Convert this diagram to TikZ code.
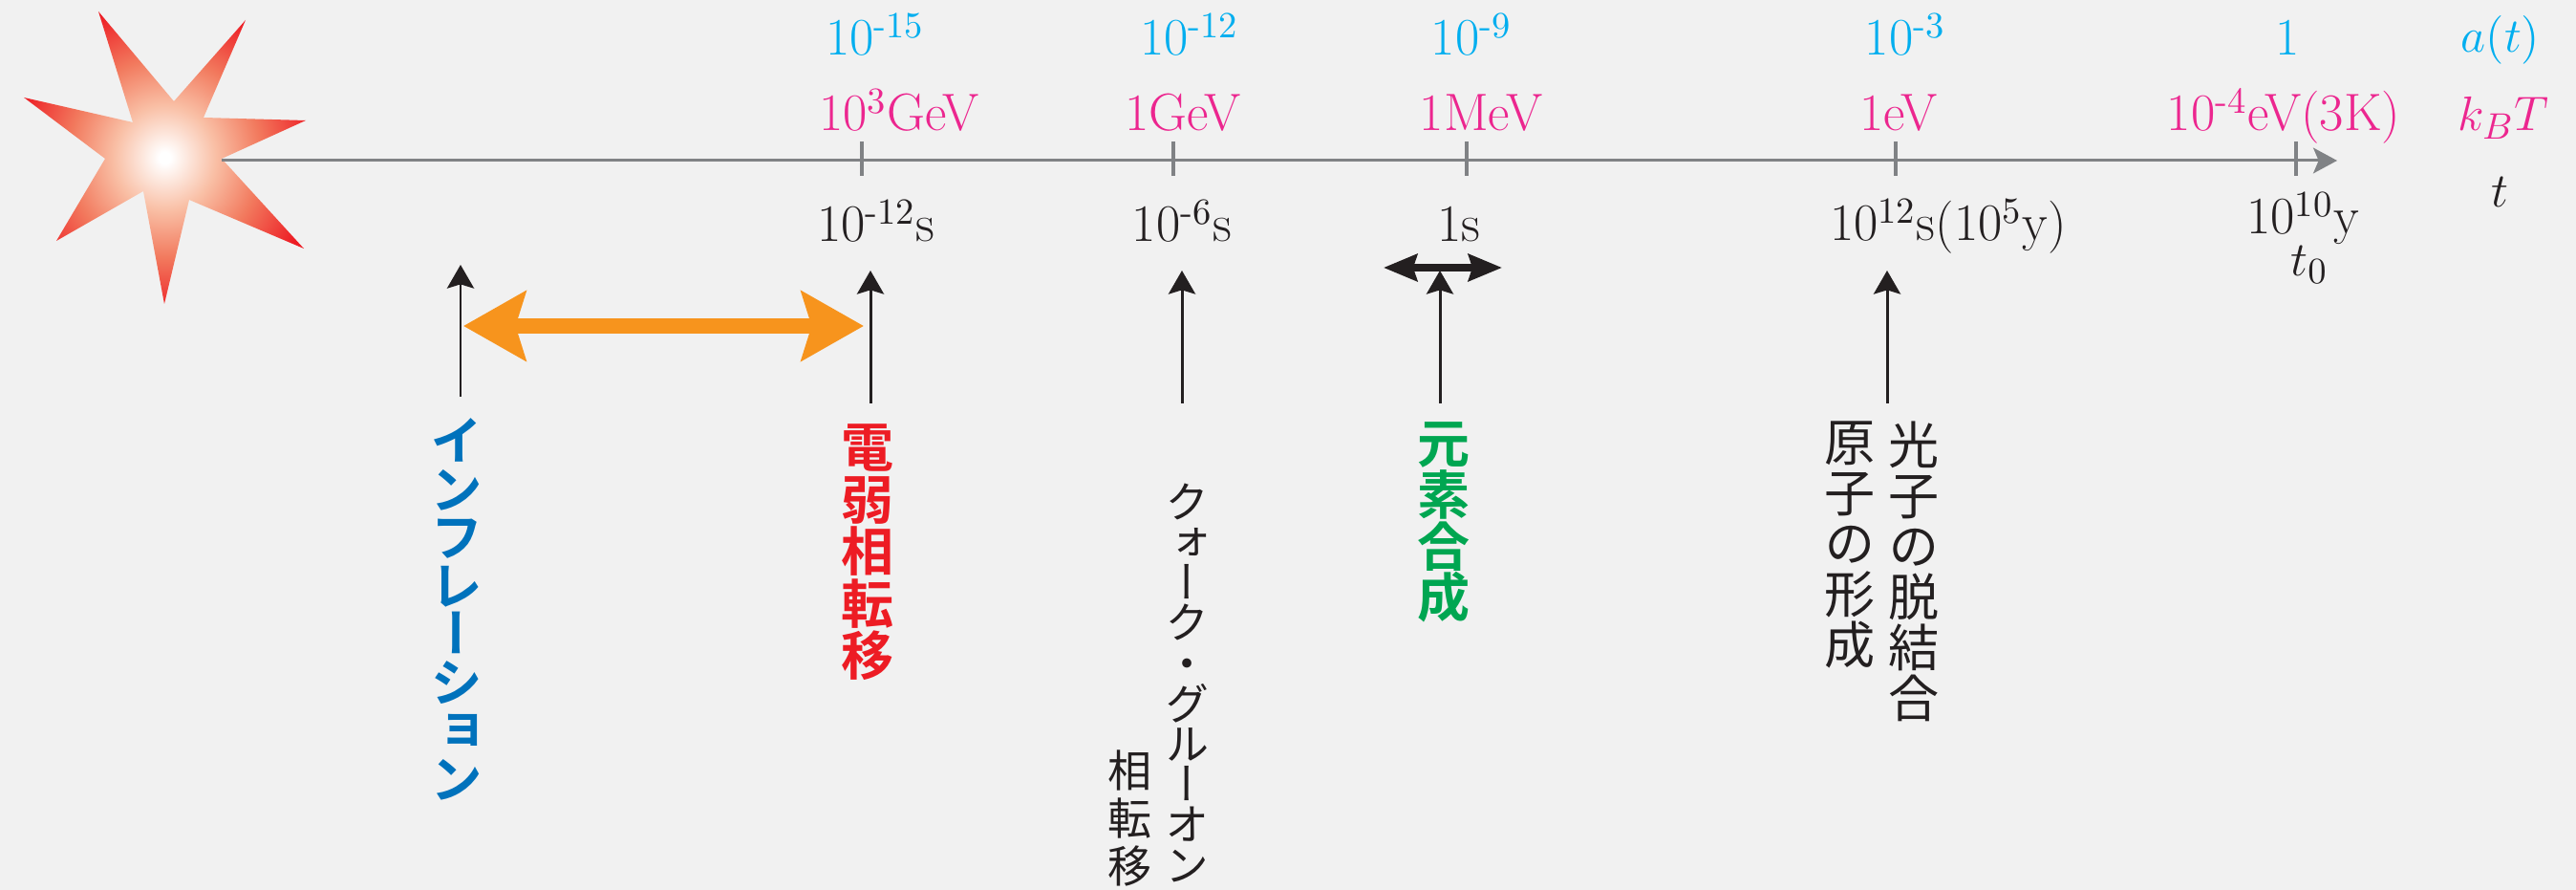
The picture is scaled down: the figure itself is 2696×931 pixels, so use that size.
\documentclass[tikz,border=0pt]{standalone}
\usepackage{fontspec}
\usetikzlibrary{arrows.meta}

% vertical-form glyphs (long vowel bar, small kana) for stacked Japanese labels
\newfontfamily\jpbold[RawFeature={+vert}]{Noto Sans CJK JP Bold}
\newfontfamily\jpreg[RawFeature={+vert}]{Noto Sans CJK JP}

\definecolor{paper}{HTML}{F1F1F1}
\definecolor{axisgray}{HTML}{808285}
\definecolor{scalecyan}{HTML}{00AEEF}
\definecolor{tempmag}{HTML}{EC268F}
\definecolor{infblue}{HTML}{0072BC}
\definecolor{ewred}{HTML}{ED1C24}
\definecolor{nucgreen}{HTML}{00A651}
\definecolor{spanorange}{HTML}{F7941D}
\definecolor{ink}{HTML}{231F20}
\definecolor{starpeach}{HTML}{F9BFA5}
\definecolor{starmid}{HTML}{F27A5E}

\pgfdeclareradialshading{bigbang}{\pgfpoint{0bp}{0bp}}{%
  color(0bp)=(white); color(1bp)=(white); color(9bp)=(starpeach);
  color(17bp)=(starmid); color(27bp)=(ewred); color(50bp)=(ewred)}

\tikzset{
  num/.style={font=\fontsize{15.65pt}{18pt}\selectfont, anchor=base, inner sep=0pt},
  tickmark/.style={draw=axisgray, line width=1.4pt},
  riser/.style={draw=ink, line width=0.85pt,
    -{Stealth[length=7pt, width=8pt, inset=1.2pt]}},
  vlab/.style={align=center, inner sep=0pt, anchor=north},
  boldjp/.style={font=\jpbold\fontsize{15.65pt}{#1}\selectfont},
  regjp/.style={font=\jpreg\fontsize{15.1pt}{#1}\selectfont},
  smalljp/.style={font=\jpreg\fontsize{13.1pt}{#1}\selectfont},
}

\begin{document}
\begin{tikzpicture}[x=0.01cm, y=-0.01cm]
  % let stacked characters sit at a fixed pitch
  \lineskiplimit=-30pt
  \lineskip=0pt
  \useasboundingbox (0,0) rectangle (2696,931);
  \fill[paper] (0,0) rectangle (2696,931);

  % the bang
  \shade[shading=bigbang]
    (103,12) -- (182,106) -- (257,21) -- (213,123) -- (320,126) -- (232,166)
    -- (318,260) -- (198,209) -- (172,318) -- (150,200) -- (59,252)
    -- (110,166) -- (25,102) -- (139,128) -- cycle;

  % time axis
  \coordinate (bang) at (232,168);
  \coordinate (now) at (2446,168);
  \draw[axisgray, line width=0.85pt,
        -{Stealth[length=7.1pt, width=7.6pt, inset=1.6pt]}] (bang) -- (now);
  \foreach \x in {902,1228,1535,1984,2403}
    \draw[tickmark] (\x,148) -- (\x,184);

  % scale factor row
  \node[num, text=scalecyan] (a1) at (916,58) {10\textsuperscript{-15}};
  \node[num, text=scalecyan] (a2) at (1245,58) {10\textsuperscript{-12}};
  \node[num, text=scalecyan] (a3) at (1540,58) {10\textsuperscript{-9}};
  \node[num, text=scalecyan] (a4) at (1994,58) {10\textsuperscript{-3}};
  \node[num, text=scalecyan] (a5) at (2394,58) {1};
  \node[num, text=scalecyan] (a6) at (2617,55) {$a(t)$};

  % temperature row
  \node[num, text=tempmag] (k1) at (941,137) {10\textsuperscript{3}GeV};
  \node[num, text=tempmag] (k2) at (1238,137) {1GeV};
  \node[num, text=tempmag] (k3) at (1550,137) {1MeV};
  \node[num, text=tempmag] (k4) at (1987,137) {1eV};
  \node[num, text=tempmag] (k5) at (2390,137) {10\textsuperscript{-4}eV(3K)};
  \node[num, text=tempmag] (k6) at (2620,137) {$k_BT$};

  % time row
  \node[num, text=ink] (s1) at (917,253) {10\textsuperscript{-12}s};
  \node[num, text=ink] (s2) at (1237,253) {10\textsuperscript{-6}s};
  \node[num, text=ink] (s3) at (1527,253) {1s};
  \node[num, text=ink] (s4) at (2039,252) {10\textsuperscript{12}s(10\textsuperscript{5}y)};
  \node[num, text=ink] (s5) at (2410,245) {10\textsuperscript{10}y};
  \node[num, text=ink] (s6) at (2417,289) {$t_0$};
  \node[num, text=ink] (s7) at (2616,217) {$t$};

  % event labels, set top to bottom
  \node[vlab, boldjp=14.37pt, text=infblue] (infl) at (478,437)
    {イ\\ン\\フ\\レ\\ー\\シ\\ョ\\ン};
  \node[vlab, boldjp=15.5pt, text=ewred] (ew) at (908,443)
    {電\\弱\\相\\転\\移};
  \node[vlab, smalljp=12.0pt, text=ink] (qcd) at (1243,505)
    {ク\\ォ\\ー\\ク\\・\\グ\\ル\\ー\\オ\\ン};
  \node[vlab, smalljp=14.2pt, text=ink, anchor=south] (qcd2) at (1183,928)
    {相\\転\\移};
  \node[vlab, boldjp=15.28pt, text=nucgreen] (nuc) at (1511,441)
    {元\\素\\合\\成};
  \node[vlab, regjp=15.1pt, text=ink] (dec) at (2003,440)
    {光\\子\\の\\脱\\結\\合};
  \node[vlab, regjp=15.1pt, text=ink] (rec) at (1936,440)
    {原\\子\\の\\形\\成};

  % arrows pointing up to the epochs
  \coordinate (infl-foot) at (482,415);  \coordinate (infl-head) at (482,277);
  \coordinate (ew-foot) at (911,422);    \coordinate (ew-head) at (911,283);
  \coordinate (qcd-foot) at (1237,422);  \coordinate (qcd-head) at (1237,283);
  \coordinate (nuc-foot) at (1507,422);  \coordinate (nuc-head) at (1507,283);
  \coordinate (dec-foot) at (1975,422);  \coordinate (dec-head) at (1975,283);
  \draw[riser] (infl-foot) -- (infl-head);
  \draw[riser] (ew-foot) -- (ew-head);
  \draw[riser] (qcd-foot) -- (qcd-head);
  \draw[riser] (nuc-foot) -- (nuc-head);
  \draw[riser] (dec-foot) -- (dec-head);

  % duration of inflation
  \coordinate (spanL) at (485,341);
  \coordinate (spanR) at (904,341);
  \draw[spanorange, line width=4.55pt,
        {Stealth[length=18.5pt, width=20.5pt, inset=3pt]}-{Stealth[length=18.5pt, width=20.5pt, inset=3pt]}]
        (spanL) -- (spanR);

  % nucleosynthesis window
  \coordinate (bbnL) at (1448,280);
  \coordinate (bbnR) at (1572,280);
  \draw[ink, line width=2pt,
        {Stealth[length=10pt, width=8pt, inset=1.2pt]}-{Stealth[length=10pt, width=8pt, inset=1.2pt]}]
        (bbnL) -- (bbnR);
\end{tikzpicture}
\end{document}
